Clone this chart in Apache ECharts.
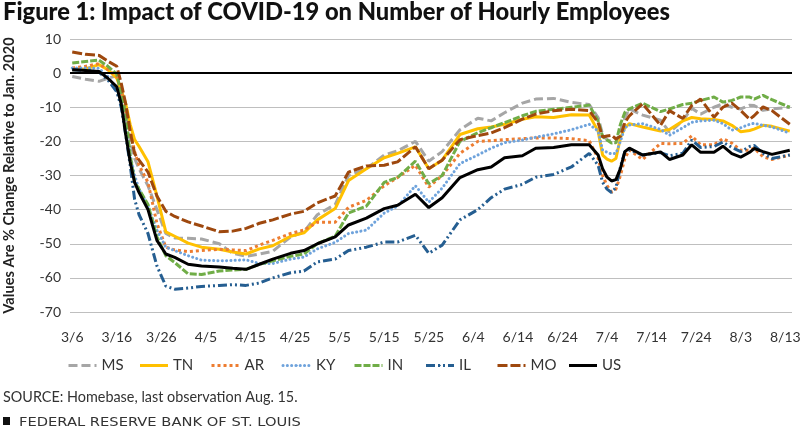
<!DOCTYPE html>
<html>
<head>
<meta charset="utf-8">
<title>Figure 1</title>
<script src="https://cdn.jsdelivr.net/npm/echarts@6/dist/echarts.min.js"></script>
<style>
html, body { margin: 0; padding: 0; background: #fff; }
#chart { width: 800px; height: 428px; }
</style>
</head>
<body>
<div id="chart"></div>
<script>
var tickLabels = ['3/6', '3/16', '3/26', '4/5', '4/15', '4/25', '5/5', '5/15', '5/25', '6/4', '6/14', '6/24', '7/4', '7/14', '7/24', '8/3', '8/13'];
var days = [
	0, 3, 6, 8, 10, 11, 12, 13,
	14, 15, 17, 19, 21, 23, 26, 29,
	33, 36, 39, 42, 45, 49, 52, 55,
	59, 62, 66, 70, 73, 77, 80, 83,
	87, 91, 94, 97, 101, 104, 108, 112,
	116, 118, 119, 120, 121, 122, 123, 124,
	125, 128, 132, 134, 137, 139, 141, 144,
	146, 148, 150, 152, 153, 155, 157, 161
];
var MS = [
	-1, -1.8, -2.4, -1.5, -0.8, -6, -12, -20,
	-25, -28, -33, -40, -47, -48.3, -48.4, -48.6,
	-50, -52.8, -53.7, -53, -52.2, -48, -46.5, -41.5,
	-38.5, -30, -28, -24, -22.8, -20, -25.8, -23,
	-16.6, -13.2, -14, -11.6, -8.8, -7.6, -7.4, -8.6,
	-9.2, -13, -18, -19.5, -20, -20.5, -17, -13,
	-10.5, -12.3, -13.8, -17.3, -14, -10.3, -12, -10,
	-9, -10, -10.5, -9.4, -9.5, -10.9, -10.5, -10
];
var TN = [
	1, 1.2, 2.5, 1, -1.5, -5, -9, -15,
	-19.5, -21.5, -26, -36, -46.5, -47.8, -49.8, -51,
	-51.6, -52.4, -53, -51.5, -50.6, -47.8, -46.8, -43,
	-39.7, -31.5, -28, -24.8, -23.5, -21.6, -28, -25.5,
	-18, -16.3, -15.8, -15, -13.5, -12.8, -13, -12.2,
	-12.3, -17, -24, -25.2, -25.8, -25, -19, -16,
	-14.8, -15.8, -17, -16.5, -14, -13, -13.4, -13.6,
	-14, -15.3, -17.2, -16.8, -16.4, -15.3, -15.6, -17
];
var AR = [
	1.5, 2, 2.8, 1, -1, -5, -11, -17,
	-23, -27, -32, -44, -51, -51.8, -52.3, -52,
	-51.6, -51.8, -52, -50.4, -49, -47, -46, -43.7,
	-43.7, -39.3, -37.3, -33, -30.6, -27, -33.4, -30,
	-23.5, -20, -19.8, -19.5, -19.2, -19, -19, -19.2,
	-19.8, -25, -30, -33, -34.8, -34, -30, -25,
	-22.5, -25.3, -20.6, -20.7, -20.6, -18.4, -21, -21,
	-19.2, -20.5, -22.6, -22.6, -22, -24.5, -25.3, -24
];
var KY = [
	1.5, 1.5, 1.4, -1, -5, -9, -16, -24,
	-30, -34, -39, -46, -51, -52, -53.5, -54.8,
	-55, -54.9, -54.7, -55.8, -55.8, -54.5, -53.9, -51.5,
	-49.6, -47, -46, -41, -39, -33, -37.8, -33.7,
	-26.5, -24, -22, -20.4, -19.6, -18.8, -17.8, -16.6,
	-15, -17, -22.5, -23.2, -23.7, -23.5, -20, -16,
	-15.2, -14.8, -16.5, -18.2, -16, -14.4, -14, -13.8,
	-14.8, -16.7, -16, -15, -14.7, -15.3, -15.8, -17.6
];
var IN = [
	3, 3.4, 3.8, 2, -0.3, -6, -12, -24,
	-32, -34, -38.5, -48, -53.5, -55.5, -58.8, -59,
	-58, -57.7, -57.5, -56, -55, -53.7, -53, -50,
	-47.8, -41, -39, -32, -30.6, -25.8, -32.4, -30,
	-20, -17.5, -16, -14.5, -12.5, -11.2, -10.6, -10,
	-9.4, -14, -18.5, -19.6, -20.5, -20.3, -15, -11.5,
	-10.5, -8.8, -11.3, -10.5, -9.2, -8.8, -8, -7,
	-8.5, -8, -7, -7, -7.6, -6.5, -7.8, -10
];
var IL = [
	1, 0.8, 0.3, -2, -5.5, -10, -18, -27,
	-37, -41.5, -47, -56.5, -62.4, -63.3, -63, -62.5,
	-62.2, -62, -62.2, -61.5, -60, -58.5, -58, -55.3,
	-54.5, -52, -51, -49.5, -49.5, -47.5, -52.8, -50.4,
	-43, -40, -36.5, -34, -32.6, -30.5, -29.7, -27.5,
	-23.5, -27, -32, -34, -35, -33.5, -27.5, -23,
	-22.5, -24, -23.3, -24.2, -23.5, -19.6, -21.8, -21.5,
	-20.2, -21.8, -23, -21.5, -21.2, -23.5, -25, -24
];
var MO = [
	6.2, 5.5, 5.2, 3.5, 2, -3, -9, -17,
	-23.6, -25.5, -29, -36, -40.5, -42, -43.6, -44.8,
	-46.5, -46.3, -45.5, -44, -43, -41.3, -40.5, -38,
	-36, -29, -27.2, -27, -26, -21.6, -28, -25.5,
	-19.5, -18.3, -17.5, -16, -13.5, -12, -11, -10.6,
	-11, -14.5, -18.7, -18.4, -18.2, -19.3, -18.5, -14.5,
	-12.5, -9, -15.3, -11, -13.3, -9.5, -7.6, -12.9,
	-10, -8.8, -11, -13.5, -12.5, -9.9, -11, -15
];
var US = [
	1, 0.8, 0.5, -1.5, -4, -9, -18, -26,
	-32, -35, -40, -49, -53, -54, -56, -56.5,
	-56.8, -57.2, -57.5, -56, -54.5, -52.8, -52, -50,
	-48, -44.5, -42.5, -39.7, -38.7, -35.5, -39.4, -36.5,
	-30.6, -28.3, -27.5, -24.8, -24.2, -22, -21.8, -21,
	-21, -24, -28, -30.5, -31.6, -31.2, -28, -23,
	-22, -24, -23.1, -25.3, -24, -21, -23.2, -23.2,
	-21.4, -23.6, -24.6, -23.2, -22.1, -23, -23.8, -22.6
];
var seriesNames = ['MS', 'TN', 'AR', 'KY', 'IN', 'IL', 'MO', 'US'];
var seriesValues = [MS, TN, AR, KY, IN, IL, MO, US];
var seriesColors = ['#a6a6a6', '#ffc000', '#ed7d31', '#6fa3dc', '#70ad47', '#255e91', '#9e480e', '#000000'];
var seriesDash = [[9, 4], 'solid', [3, 3], [0.1, 4.2], [7, 2], [9, 3, 2, 3, 2, 3], [10, 3], 'solid'];

// one slot per day, so the sparse readings land on the right date
var categories = [];
for (var i = 0; i < 162; i++) {
	categories.push(i % 10 == 0 && tickLabels[i / 10] ? tickLabels[i / 10] : '');
}

var font = 'Lato';
var chart = echarts.init(document.getElementById('chart'));

var series = seriesNames.map(function (name, s) {
	var item = {
		name: name,
		type: 'line',
		symbol: 'none',
		data: days.map(function (d, k) { return [d, seriesValues[s][k]]; }),
		lineStyle: {
			color: seriesColors[s],
			width: 3,
			type: seriesDash[s],
			cap: name == 'KY' ? 'round' : 'butt'
		},
		itemStyle: { color: seriesColors[s] },
		animation: false
	};
	if (name == 'US') {
		item.markLine = {
			silent: true,
			symbol: 'none',
			animation: false,
			label: { show: false },
			lineStyle: { color: '#000', width: 2, type: 'solid' },
			data: [{ yAxis: 0 }]
		};
	}
	return item;
});

// a small itemHeight keeps the circle ECharts adds to the legend line out of sight
var legends = seriesNames.map(function (name, s) {
	return {
		data: [name],
		left: 67 + 71.5 * s,
		top: 358,
		padding: 0,
		itemWidth: 28,
		itemHeight: 2,
		itemGap: 0,
		lineStyle: { width: 3 },
		textStyle: { fontFamily: font, fontSize: 15, color: '#333' }
	};
});

var option = {
	animation: false,
	backgroundColor: '#fff',
	textStyle: { fontFamily: font },
	title: [
		{ text: 'Figure 1: Impact of COVID-19 on Number of Hourly Employees', left: 3, top: 0, padding: 0,
			textStyle: { fontFamily: font, fontSize: 23.7, fontWeight: 900, color: '#111' } },
		{ text: 'SOURCE: Homebase, last observation Aug. 15.', left: 3, top: 390, padding: 0,
			textStyle: { fontFamily: font, fontSize: 14.4, fontWeight: 'normal', color: '#333' } }
	],
	graphic: [
		{ type: 'rect', shape: { x: 3, y: 417, width: 7, height: 8 }, style: { fill: '#111' } },
		// the original line is letter-spaced, stretched here to the same width
		{ type: 'text', x: 19, y: 416, scaleX: 1.175,
			style: { text: 'FEDERAL RESERVE BANK OF ST. LOUIS', fontFamily: 'DejaVu Sans', fontSize: 12.5, fill: '#333' } }
	],
	legend: legends,
	grid: { left: 70, right: 8, top: 39, bottom: 116, outerBoundsMode: 'none' },
	xAxis: {
		type: 'category',
		data: categories,
		boundaryGap: true,
		axisLine: { show: false },
		axisTick: { show: false },
		axisLabel: { interval: 0, margin: 18, fontSize: 14, color: '#333', fontFamily: font }
	},
	yAxis: {
		type: 'value',
		min: -70,
		max: 10,
		interval: 10,
		name: 'Values Are % Change Relative to Jan. 2020',
		nameLocation: 'middle',
		nameGap: 53,
		nameTextStyle: { fontFamily: font, fontSize: 14.6, fontWeight: 'bold', color: '#222' },
		axisLine: { show: false },
		axisTick: { show: false },
		axisLabel: { margin: 9, fontSize: 14, color: '#333', fontFamily: font },
		splitLine: { lineStyle: { color: '#bfbfbf', width: 1 } }
	},
	series: series
};
chart.setOption(option);
</script>
</body>
</html>
